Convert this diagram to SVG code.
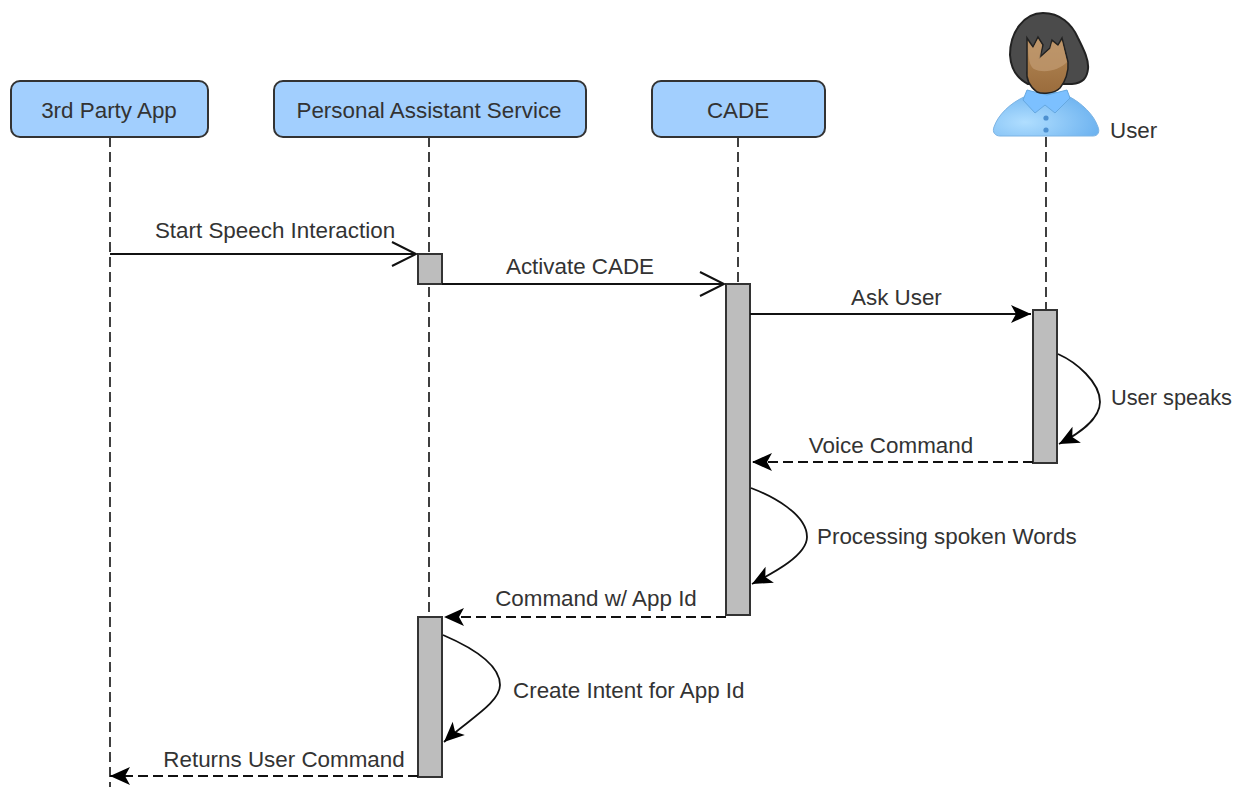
<svg xmlns="http://www.w3.org/2000/svg" width="1234" height="787" viewBox="0 0 1234 787">
<defs>
<radialGradient id="shirt" cx="0.3" cy="0.7" r="0.8"><stop offset="0" stop-color="#b0deff"/><stop offset="1" stop-color="#66aeee"/></radialGradient>
<linearGradient id="face" x1="0" y1="0" x2="0" y2="1"><stop offset="0" stop-color="#b58a58"/><stop offset="1" stop-color="#9a6c3c"/></linearGradient>
<marker id="open" markerUnits="userSpaceOnUse" markerWidth="30" markerHeight="30" refX="24" refY="12" orient="auto" overflow="visible"><path d="M0 0L24 12L0 24" fill="none" stroke="#111" stroke-width="2"/></marker>
<marker id="solid" markerUnits="userSpaceOnUse" markerWidth="24" markerHeight="24" refX="20" refY="9" orient="auto" overflow="visible"><path d="M0 0L20 9L0 18L5 9Z" fill="#000"/></marker>
</defs>
<style>
.actor{fill:#a2cffe;stroke:#333;stroke-width:2}
.life{stroke:#111;stroke-width:1.6;stroke-dasharray:10 5;fill:none}
.act{fill:#bdbdbd;stroke:#333;stroke-width:2}
.msg{stroke:#111;stroke-width:1.8;fill:none}
.dash{stroke-dasharray:10 5}
text{font-family:"Liberation Sans",Arial,sans-serif;font-size:22.4px;fill:#333}
.m{text-anchor:middle}
</style>
<g id="lifelines">
<line class="life" x1="110" y1="137" x2="110" y2="787"/>
<line class="life" x1="429" y1="137" x2="429" y2="617"/>
<line class="life" x1="738" y1="137" x2="738" y2="284"/>
<line class="life" x1="1046" y1="137" x2="1046" y2="310"/>
</g>
<g id="actor-3rd-party-app"><rect class="actor" x="11" y="81" width="197" height="56" rx="9"/><text class="m" x="109" y="118">3rd Party App</text></g>
<g id="actor-personal-assistant"><rect class="actor" x="274" y="81" width="312" height="56" rx="9"/><text class="m" x="429" y="118">Personal Assistant Service</text></g>
<g id="actor-cade"><rect class="actor" x="652" y="81" width="173" height="56" rx="9"/><text class="m" x="738" y="118">CADE</text></g>
<g id="actor-user">
<path d="M1043 13C1060 13 1072 24 1078 38C1084 50 1089 60 1088 69C1087 78 1083 83 1072 84L1062 84L1028 84C1020 80 1011 72 1010 55C1010 32 1024 13 1043 13Z" fill="#4b4b4b" stroke="#222" stroke-width="2"/>
<path d="M1026 96C1010 103 998 115 994 127C992 132 995 136 1000 136L1093 136C1098 136 1100 132 1098 127C1094 115 1082 103 1068 96L1047 90Z" fill="url(#shirt)" stroke="#7db4e4" stroke-width="1"/>
<path d="M1027 90L1023 100L1035 113L1045 105L1055 113L1070 98L1067 90L1047 95Z" fill="#7cc0ff" stroke="#66a8e0" stroke-width="1"/>
<circle cx="1046" cy="118" r="2.6" fill="#4d90d0"/><circle cx="1046" cy="130" r="2.6" fill="#4d90d0"/>
<path d="M1027 38L1033 47L1038 37L1043 45L1040 57L1050 48L1052 40L1058 45L1062 38L1068 62C1069 72 1065 82 1060 88C1054 94 1042 94 1037 92C1029 86 1026 78 1027 70Z" fill="url(#face)" stroke="#222" stroke-width="1.5"/>
<path d="M1028 42L1033 48L1038 39L1042 45L1040 58L1050 49L1052 42L1058 46L1062 41L1067 62C1060 70 1044 74 1034 69C1030 66 1028 60 1028 42Z" fill="#c09a70" opacity="0.75"/>
<text x="1110" y="138">User</text></g>
<g id="activations">
<rect class="act" x="418" y="254" width="24" height="30"/>
<rect class="act" x="726" y="284" width="24" height="331"/>
<rect class="act" x="1033" y="310" width="24" height="153"/>
<rect class="act" x="418" y="617" width="24" height="160"/>
</g>
<g id="connectors">
<line class="msg" x1="110" y1="254" x2="416" y2="254" marker-end="url(#open)"/>
<line class="msg" x1="442" y1="284" x2="724" y2="284" marker-end="url(#open)"/>
<line class="msg" x1="750" y1="314" x2="1031" y2="314" marker-end="url(#solid)"/>
<path class="msg" d="M1058 354C1076 362 1100 382 1100 402C1100 420 1078 434 1059 444" marker-end="url(#solid)"/>
<line class="msg dash" x1="1033" y1="462" x2="752" y2="462" marker-end="url(#solid)"/>
<path class="msg" d="M751 488C772 496 807 514 807 537C807 555 775 572 752 584" marker-end="url(#solid)"/>
<line class="msg dash" x1="726" y1="617" x2="444" y2="617" marker-end="url(#solid)"/>
<path class="msg" d="M443 635C464 644 500 662 500 685C500 703 468 720 444 742" marker-end="url(#solid)"/>
<line class="msg dash" x1="418" y1="776" x2="110" y2="776" marker-end="url(#solid)"/>
</g>
<g id="labels">
<text class="m" x="275" y="238">Start Speech Interaction</text>
<text class="m" x="580" y="274">Activate CADE</text>
<text x="851" y="305">Ask User</text>
<text x="1111" y="405" textLength="121" lengthAdjust="spacingAndGlyphs">User speaks</text>
<text class="m" x="891" y="453">Voice Command</text>
<text x="817" y="544">Processing spoken Words</text>
<text class="m" x="596" y="606">Command w/ App Id</text>
<text x="513" y="698">Create Intent for App Id</text>
<text class="m" x="284" y="767">Returns User Command</text>
</g>
</svg>
